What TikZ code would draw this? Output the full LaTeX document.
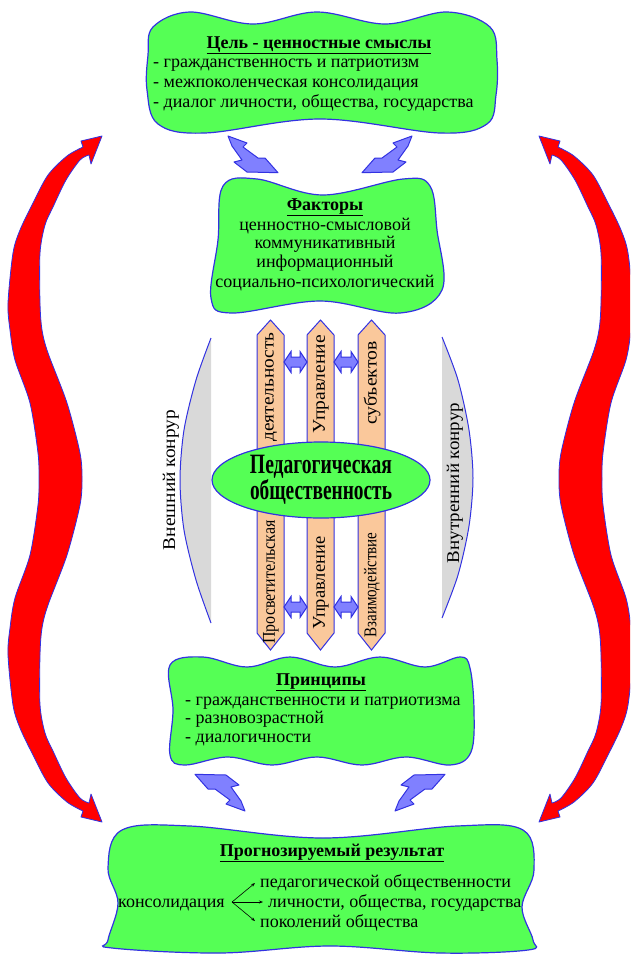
\documentclass[tikz,border=0pt]{standalone}
\usepackage{fontspec}
\setmainfont{Liberation Serif}
\usetikzlibrary{shapes.geometric,arrows.meta}
\definecolor{boxgreen}{RGB}{85,255,85}
\definecolor{edgeblue}{RGB}{50,50,225}
\definecolor{peach}{RGB}{250,200,155}
\definecolor{boltblue}{RGB}{128,128,255}
\definecolor{crescent}{RGB}{217,217,217}
\newcommand\fitw[2]{\resizebox{#1pt}{\height}{#2}}
\tikzset{
  wavybox/.style={fill=boxgreen,draw=edgeblue,line width=1.2pt},
  txt/.style={font=\fontsize{18}{19.5}\selectfont,inner sep=0pt},
  ttl/.style={font=\fontsize{18}{19.5}\selectfont\bfseries,inner sep=0pt},
  rtxt/.style={font=\fontsize{18}{18}\selectfont,inner sep=0pt,rotate=90},
  colbox/.style={fill=peach,draw=edgeblue,line width=1pt},
  boltst/.style={fill=boltblue,draw=edgeblue,line width=1pt,line join=round},
  redarrow/.style={fill=red,draw=edgeblue,line width=0.8pt,line join=round},
  dblarrow/.style={fill=boltblue,draw=edgeblue,line width=1pt},
  fan/.style={line width=0.6pt,-{Stealth[length=4pt,width=3pt]}},
  bolt/.pic={
    \filldraw[boltst] (-34,-36) -- (-15,-29) -- (-19,-25) -- (-4,-14) -- (3,-14)
      -- (16,0.7) -- (-15,0) -- (-28,-10) -- (-20,-12) -- (-30,-26) -- cycle;
  },
  bigarrow/.pic={
    \filldraw[redarrow] (102,136) -- (81,141) -- (83,147) -- plot[smooth] coordinates {
      (83,147) (67,156) (48,175) (33,203) (20,230) (13,253) (8,303) (10,330) (15,360)
      (30,403) (38,453) (39,479) (38,505) (30,555) (15,598) (10,628) (8,655)
      (13,705) (20,728) (33,755) (48,783) (67,802) (83,811)}
      -- (81,817) -- (102,822) -- (91,794) -- (89,803) -- plot[smooth] coordinates {
      (89,803) (80,798) (66,778) (53,751) (45,733) (40,705) (40,655) (42,628)
      (48,605) (67,555) (80,505) (82,479) (80,453) (67,403) (48,353) (42,330)
      (40,303) (40,253) (45,225) (53,207) (66,180) (80,160) (89,155)}
      -- (91,164) -- cycle;
  },
}
\begin{document}
\begin{tikzpicture}[x=1pt,y=-1pt]
\useasboundingbox (0,0) rectangle (630,954);
\clip (0,0) rectangle (630,954);

% red double arrows
\pic (leftarrow) at (0,0) {bigarrow};
\pic[xscale=-1] (rightarrow) at (641,0) {bigarrow};

% top box
\filldraw[wavybox] plot[smooth cycle,tension=0.6] coordinates {
  (153,27) (190,12) (253,24) (317,12) (385,24) (447,12) (490,27) (497,60)
  (496,95) (487,124) (440,133) (320,119) (205,133) (158,124) (147,90) (148,55)};
\node[ttl,anchor=base] (goalT) at (319,48) {\underline{Цель - ценностные смыслы}};
\node[txt,anchor=base west] (goal1) at (153,67) {- гражданственность и патриотизм};
\node[txt,anchor=base west] (goal2) at (153,87) {- межпоколенческая консолидация};
\node[txt,anchor=base west] (goal3) at (153,107) {- диалог личности, общества, государства};

% bolts
\pic (boltA) at (262,172) {bolt};
\pic[xscale=-1] (boltB) at (378,172) {bolt};
\pic[xscale=-1,yscale=-1] (boltC) at (211,775) {bolt};
\pic[yscale=-1] (boltD) at (429,775) {bolt};

% factors box
\filldraw[wavybox] plot[smooth cycle,tension=0.6] coordinates {
  (223,186) (257,179) (323,195) (403,179) (430,186) (437,230) (442,290)
  (400,313) (320,301) (232,313) (211,298) (218,240)};
\node[ttl,anchor=base] (factT) at (325,210) {\underline{Факторы}};
\node[txt,anchor=base] (fact1) at (325,230) {ценностно-смысловой};
\node[txt,anchor=base] (fact2) at (325,248) {коммуникативный};
\node[txt,anchor=base] (fact3) at (325,267) {информационный};
\node[txt,anchor=base] (fact4) at (325,287) {социально-психологический};

% crescents
\fill[crescent] (211,338) -- plot[smooth] coordinates {(211,338) (196,380) (184,430) (180,480) (184,530) (196,580) (211,623)} -- cycle;
\draw[edgeblue,line width=1pt] plot[smooth] coordinates {(211,338) (196,380) (184,430) (180,480) (184,530) (196,580) (211,623)};
\fill[crescent] (442,337) -- plot[smooth] coordinates {(442,337) (458,380) (469,430) (473,478) (469,526) (458,575) (442,618)} -- cycle;
\draw[edgeblue,line width=1pt] plot[smooth] coordinates {(442,337) (458,380) (469,430) (473,478) (469,526) (458,575) (442,618)};
\node[rtxt] (outer) at (171,480) {\fitw{140}{Внешний конрур}};
\node[rtxt] (inner) at (455,483) {\fitw{160}{Внутренний конрур}};

% columns
\foreach \c/\n in {270.5/colA,320.5/colB,371.5/colC}{
  \filldraw[colbox] (\c-13.5,335) -- (\c,320) -- (\c+13.5,335) -- (\c+13.5,633)
    -- (\c,650) -- (\c-13.5,633) -- cycle;
}
\node[rtxt] (colAu) at (271,387) {\fitw{109}{деятельность}};
\node[rtxt] (colBu) at (321,384) {\fitw{98}{Управление}};
\node[rtxt] (colCu) at (372,383) {\fitw{83}{субъектов}};
\node[rtxt] (colAl) at (271,582) {\fitw{123}{Просветительская}};
\node[rtxt] (colBl) at (321,583) {\fitw{93}{Управление}};
\node[rtxt] (colCl) at (372,585) {\fitw{105}{Взаимодействие}};

% small double arrows
\foreach \xa/\xb/\y in {284/307/362,334/358/362,284/307/607,334/358/607}{
  \filldraw[dblarrow] (\xa,\y) -- (\xa+7,\y-10.5) -- (\xa+7,\y-5) -- (\xb-7,\y-5)
    -- (\xb-7,\y-10.5) -- (\xb,\y) -- (\xb-7,\y+10.5) -- (\xb-7,\y+5)
    -- (\xa+7,\y+5) -- (\xa+7,\y+10.5) -- cycle;
}

% ellipse
\node[ellipse,fill=boxgreen,draw=edgeblue,line width=1.2pt,minimum width=218pt,
  minimum height=76pt,inner sep=0pt,align=center,
  font=\fontsize{28}{26}\selectfont\bfseries] (ped) at (321,480)
  {\fitw{142}{Педагогическая}\\\fitw{142}{общественность}};

% principles box
\filldraw[wavybox] plot[smooth cycle,tension=0.6] coordinates {
  (170,665) (203,657) (247,667) (290,657) (335,667) (380,657) (425,667) (460,657)
  (470,668) (474,710) (471,752) (450,765) (406,757) (362,765) (317,757) (272,765)
  (228,757) (185,765) (170,755) (173,710)};
\node[ttl,anchor=base] (prinT) at (321,685) {\underline{Принципы}};
\node[txt,anchor=base west] (prin1) at (185,705) {- гражданственности и патриотизма};
\node[txt,anchor=base west] (prin2) at (185,723) {- разновозрастной};
\node[txt,anchor=base west] (prin3) at (185,742) {- диалогичности};

% result box
\filldraw[wavybox] plot[smooth cycle,tension=0.6] coordinates {
  (122,830) (190,826) (323,838) (457,826) (523,830) (534,870) (522,907) (533,940)
  (528,950) (440,953) (330,946) (220,953) (112,948) (108,940) (118,903) (108,868)};
\node[ttl,anchor=base] (resT) at (332,856) {\underline{Прогнозируемый результат}};
\node[txt,anchor=base west] (cons) at (118,907) {консолидация};
\node[txt,anchor=base west] (res1) at (260,887) {педагогической общественности};
\node[txt,anchor=base west] (res2) at (268,907) {личности, общества, государства};
\node[txt,anchor=base west] (res3) at (260,927) {поколений общества};
\coordinate (fanO) at (232,902);
\coordinate (fan1) at (255,883);
\coordinate (fan2) at (263,902);
\coordinate (fan3) at (255,921);
\draw[fan] (fanO) -- (fan1);
\draw[fan] (fanO) -- (fan2);
\draw[fan] (fanO) -- (fan3);
\end{tikzpicture}
\end{document}
